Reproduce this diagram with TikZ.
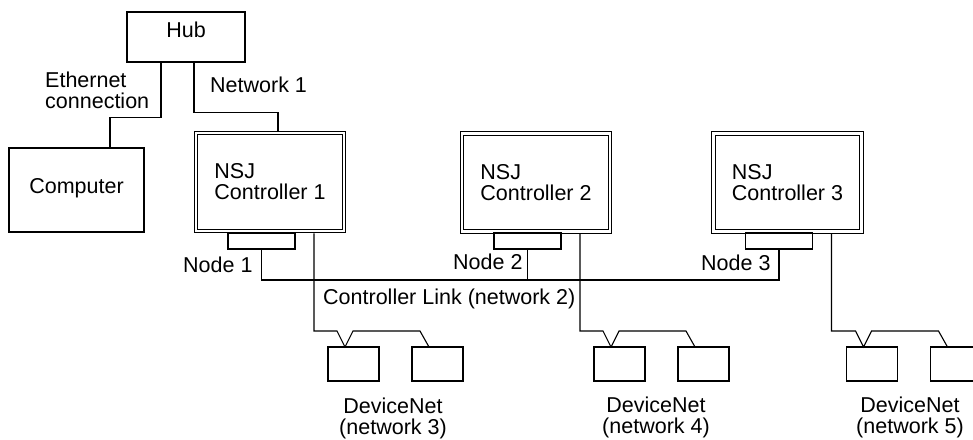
\documentclass[tikz,border=0pt]{standalone}
\usepackage{fontspec}
\setmainfont{Liberation Sans}
\usetikzlibrary{positioning}

\tikzset{
  unit/.style={draw,line width=1.1pt,inner sep=0pt},
  ctrl/.style={draw,line width=1.1pt,double,double distance=2.4pt,minimum width=148pt,minimum height=98pt,outer sep=2.3pt,inner sep=0pt,align=left},
  port/.style={draw,line width=1.1pt,minimum width=67pt,minimum height=16pt,inner sep=0pt,outer sep=0pt},
  dev/.style={draw,line width=1.1pt,minimum width=51pt,minimum height=34pt,inner sep=0pt,outer sep=0pt},
  lbl/.style={inner sep=0pt,align=left},
  wire/.style={line width=1.1pt}
}

\begin{document}
\begin{tikzpicture}[x=1pt,y=-1pt,every node/.style={font=\fontsize{21.5}{21}\selectfont}]
  \useasboundingbox (0,0) rectangle (973,439);
  % hub and computer
  \node[unit,minimum width=118pt,minimum height=50pt,text depth=14pt] (hub) at (186,37) {Hub};
  \node[unit,minimum width=135pt,minimum height=84pt,text depth=9pt] (pc) at (76.5,190) {Computer};
  % controllers with their link ports
  \node[ctrl] (ctrl1) at (270,182) {NSJ\\Controller 1};
  \node[ctrl] (ctrl2) at (536,182.5) {NSJ\\Controller 2};
  \node[ctrl] (ctrl3) at (787.5,182.5) {NSJ\\Controller 3};
  \node[port] (port1) at (261.5,241) {};
  \node[port] (port2) at (527.5,241) {};
  \node[port] (port3) at (779,241) {};
  % devicenet slaves
  \foreach \n/\x in {3/353.5,4/619.5,5/872} {
    \node[dev] (deva\n) at (\x,364) {};
    \node[dev] (devb\n) at (\x+84,364) {};
  }
  % labels
  \node[lbl,anchor=north west] (ethlbl) at (45,72) {Ethernet\\connection};
  \node[lbl,anchor=north west] (net1lbl) at (210,77) {Network 1};
  \node[lbl,anchor=north west] (node1lbl) at (183,257) {Node 1};
  \node[lbl,anchor=north west] (node2lbl) at (453,254) {Node 2};
  \node[lbl,anchor=north west] (node3lbl) at (701,255) {Node 3};
  \node[lbl,anchor=north west] (linklbl) at (323,289) {Controller Link (network 2)};
  \node[lbl,anchor=north,align=center] (dn3lbl) at (393,398) {DeviceNet\\(network 3)};
  \node[lbl,anchor=north,align=center] (dn4lbl) at (656,397) {DeviceNet\\(network 4)};
  \node[lbl,anchor=north,align=center] (dn5lbl) at (910,397) {DeviceNet\\(network 5)};
  % ethernet
  \draw[wire] ([xshift=-25pt]hub.south) -- ++(0,55) -| ([xshift=33.5pt]pc.north);
  \draw[wire] ([xshift=8pt]hub.south) -- ++(0,50) -| ([xshift=8pt]ctrl1.north);
  % controller link bus
  \draw[wire] (port1.south) -- ++(0,31) -| (port3.south);
  \draw[wire] (port2.south) -- ++(0,31);
  % devicenet drops
  \foreach \c/\n in {1/3,2/4,3/5}
    \draw[wire] ([xshift=44pt]ctrl\c.south) |- ([xshift=9pt,yshift=16pt]deva\n.north west)
      -- ([xshift=17pt]deva\n.north west) -- ([xshift=25pt,yshift=16pt]deva\n.north west)
      -- ([xshift=8pt,yshift=16pt]devb\n.north west) -- ([xshift=17pt]devb\n.north west);
\end{tikzpicture}
\end{document}
